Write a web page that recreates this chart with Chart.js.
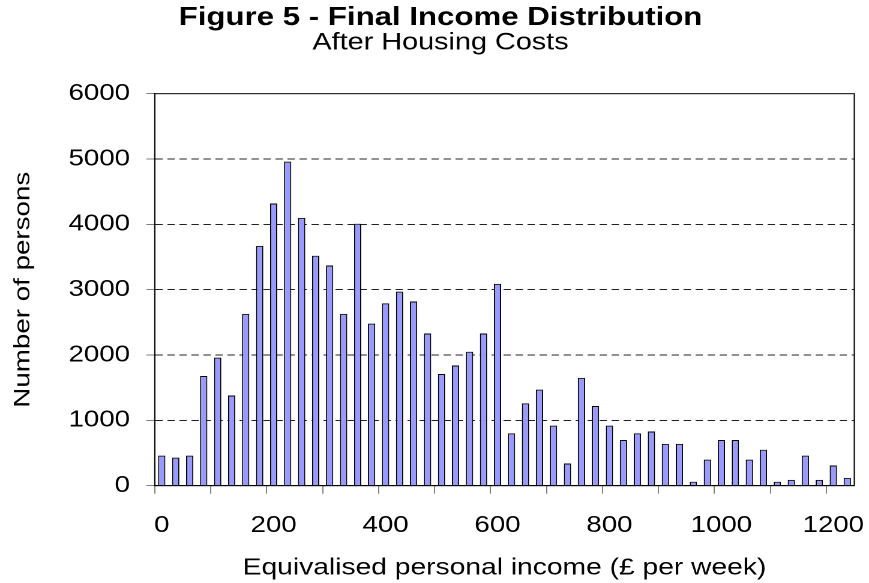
<!DOCTYPE html>
<html>
<head>
<meta charset="utf-8">
<script src="https://cdn.jsdelivr.net/npm/chart.js@4.4.1/dist/chart.umd.min.js"></script>
<style>
  html, body { margin: 0; padding: 0; background: #ffffff; overflow: hidden; }
  /* laid out narrower, then stretched sideways so the lettering comes out wide */
  #wrap { width: 724px; height: 583px; transform: scaleX(1.2003); transform-origin: 0 0; }
</style>
</head>
<body>
<div id="wrap"><canvas id="incomeChart"></canvas></div>
<script>
// Income bands (£ per week, lower edge of each 25 band)
const incomeBands = [
  "0", "25", "50", "75", "100", "125", "150", "175", "200", "225",
  "250", "275", "300", "325", "350", "375", "400", "425", "450", "475",
  "500", "525", "550", "575", "600", "625", "650", "675", "700", "725",
  "750", "775", "800", "825", "850", "875", "900", "925", "950", "975",
  "1000", "1025", "1050", "1075", "1100", "1125", "1150", "1175", "1200", "1225",
];

// Number of persons in each band
const persons = [
  460, 430, 460, 1680, 1960, 1380, 2630, 3670, 4320, 4960,
  4100, 3520, 3370, 2630, 4010, 2480, 2790, 2970, 2820, 2330,
  1710, 1840, 2050, 2330, 3090, 800, 1260, 1470, 920, 340,
  1650, 1220, 920, 700, 800, 830, 640, 640, 60, 400,
  700, 700, 400, 550, 60, 90, 460, 90, 310, 120,
];

// Labelled incomes on the x axis and counts on the y axis
const xLabels = ["0", "200", "400", "600", "800", "1000", "1200"];
const yTicks = [0, 1000, 2000, 3000, 4000, 5000, 6000];

const fontFamily = "'Liberation Sans', Arial, sans-serif";
const yTitle = "Number of persons";

// Solid frame round the plot area
const frameBox = {
  id: "frameBox",
  afterDraw(chart) {
    const { ctx, chartArea: a } = chart;
    ctx.save();
    ctx.strokeStyle = "#000000";
    ctx.lineWidth = 1;
    ctx.strokeRect(a.left, a.top, a.right - a.left, a.bottom - a.top);
    ctx.restore();
  },
};

// Vertical axis title, drawn wide along its baseline
const sideTitle = {
  id: "sideTitle",
  afterDraw(chart) {
    const { ctx, chartArea: a } = chart;
    ctx.save();
    ctx.translate(19.2, (a.top + a.bottom) / 2);
    ctx.rotate(-Math.PI / 2);
    ctx.scale(1.5, 1);
    ctx.font = "18.5px " + fontFamily;
    ctx.fillStyle = "#000000";
    ctx.textAlign = "center";
    ctx.textBaseline = "middle";
    ctx.fillText(yTitle, 0, 0);
    ctx.restore();
  },
};

new Chart(document.getElementById("incomeChart"), {
  type: "bar",
  data: {
    labels: incomeBands,
    datasets: [
      {
        label: yTitle,
        data: persons,
        backgroundColor: "#9999ff",
        borderColor: "#000000",
        borderWidth: 1,
        barPercentage: 0.52,
        categoryPercentage: 1.0,
      },
    ],
  },
  options: {
    responsive: true,
    maintainAspectRatio: false,
    devicePixelRatio: 2,
    animation: false,
    layout: { padding: { left: 20, right: 10, top: 0, bottom: 0 } },
    plugins: {
      legend: { display: false },
      tooltip: { enabled: false },
      title: {
        display: true,
        text: "Figure 5 - Final Income Distribution",
        color: "#000000",
        font: { family: fontFamily, size: 26, weight: "bold", lineHeight: 1.0 },
        padding: { top: 5, bottom: 0 },
      },
      subtitle: {
        display: true,
        text: "After Housing Costs",
        color: "#000000",
        font: { family: fontFamily, size: 24, lineHeight: 1.0 },
        padding: { top: 0, bottom: 38.7 },
      },
    },
    scales: {
      x: {
        afterFit(scale) {
          scale.height = 97.3;
        },
        grid: {
          offset: true,
          drawOnChartArea: false,
          tickLength: 8,
          tickColor: (ctx) => (ctx.index % 4 === 0 ? "#808080" : "rgba(0,0,0,0)"),
        },
        border: { display: true, color: "#000000", width: 1 },
        ticks: {
          autoSkip: false,
          maxRotation: 0,
          padding: 18,
          color: "#000000",
          font: { family: fontFamily, size: 23 },
          callback(value) {
            const band = this.getLabelForValue(value);
            return xLabels.includes(band) ? band : "";
          },
        },
        title: {
          display: true,
          text: "Equivalised personal income (£ per week)",
          color: "#000000",
          font: { family: fontFamily, size: 23.5, lineHeight: 1.2 },
          padding: { top: 14, bottom: 0.9 },
        },
      },
      y: {
        min: yTicks[0],
        max: yTicks[yTicks.length - 1],
        afterFit(scale) {
          scale.width = 108.9;
        },
        afterBuildTicks(scale) {
          scale.ticks = yTicks.map((v) => ({ value: v }));
        },
        grid: {
          color: (ctx) =>
            ctx.tick && (ctx.tick.value === 0 || ctx.tick.value === 6000)
              ? "rgba(0,0,0,0)"
              : "#222222",
          lineWidth: 1,
          tickLength: 7,
          tickColor: "#808080",
        },
        border: { display: true, color: "#000000", width: 1, dash: [6.1, 3.9] },
        ticks: {
          padding: 13.6,
          color: "#000000",
          font: { family: fontFamily, size: 23 },
          callback: (value) => String(value),
        },
      },
    },
  },
  plugins: [frameBox, sideTitle],
});
</script>
</body>
</html>
